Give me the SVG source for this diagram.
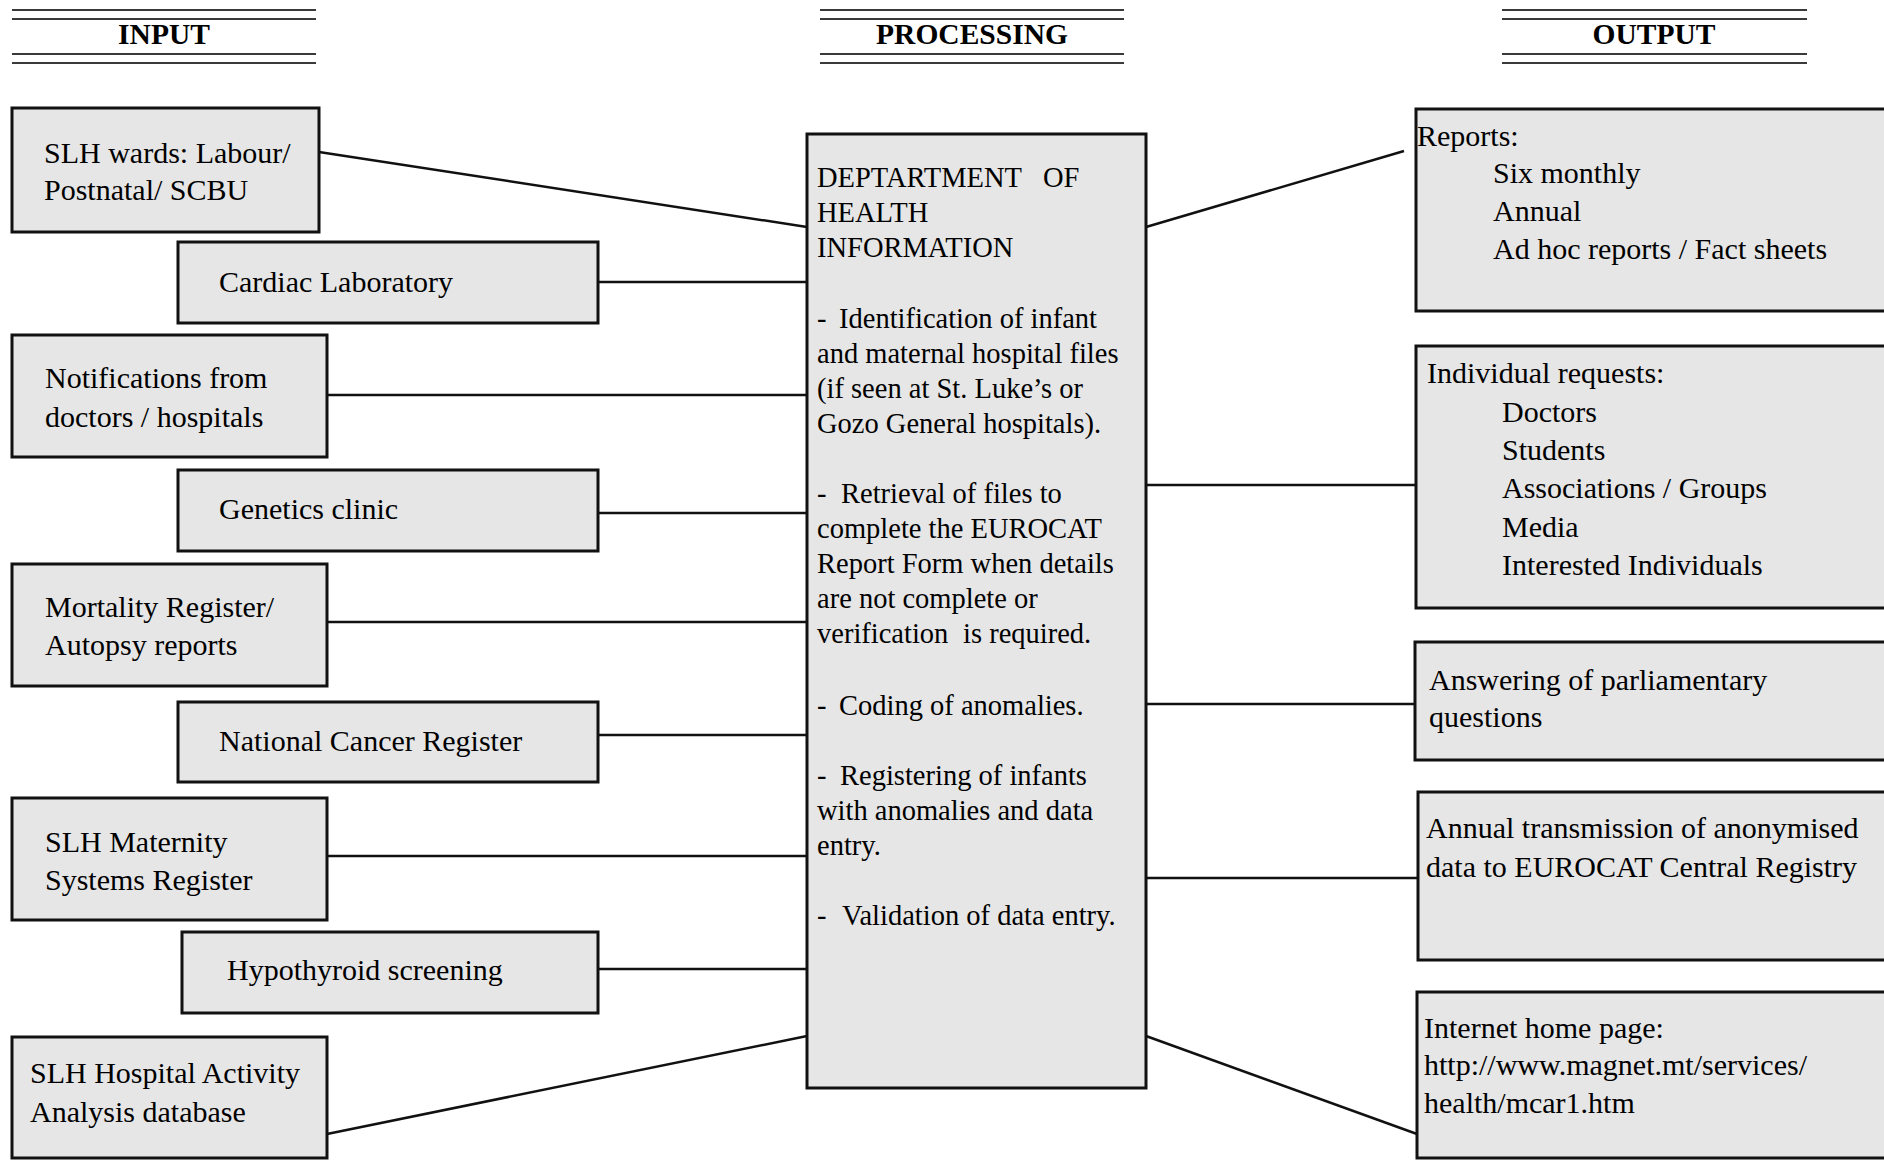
<svg xmlns="http://www.w3.org/2000/svg" width="1884" height="1160" viewBox="0 0 1884 1160">
<style>
.hl{stroke:#3a3a3a;stroke-width:2;fill:none}
.ht{font-family:"Liberation Serif","Times New Roman",serif;font-weight:bold;font-size:29.5px;fill:#000;text-anchor:middle}
.box{fill:#e6e6e6;stroke:#111;stroke-width:3}
.t{font-family:"Liberation Serif","Times New Roman",serif;font-size:30px;fill:#000}
.c{font-family:"Liberation Serif","Times New Roman",serif;font-size:28.5px;fill:#000}
.con line{stroke:#111;stroke-width:2.5}
</style>
<rect width="1884" height="1160" fill="#fff"/>
<g id="header-input">
<line class="hl" x1="12" y1="10" x2="316" y2="10"/><line class="hl" x1="12" y1="19" x2="316" y2="19"/>
<line class="hl" x1="12" y1="54" x2="316" y2="54"/><line class="hl" x1="12" y1="63" x2="316" y2="63"/>
<text class="ht" x="164" y="44">INPUT</text>
</g>
<g id="header-processing">
<line class="hl" x1="820" y1="10" x2="1124" y2="10"/><line class="hl" x1="820" y1="19" x2="1124" y2="19"/>
<line class="hl" x1="820" y1="54" x2="1124" y2="54"/><line class="hl" x1="820" y1="63" x2="1124" y2="63"/>
<text class="ht" x="972" y="44">PROCESSING</text>
</g>
<g id="header-output">
<line class="hl" x1="1502" y1="10" x2="1807" y2="10"/><line class="hl" x1="1502" y1="19" x2="1807" y2="19"/>
<line class="hl" x1="1502" y1="54" x2="1807" y2="54"/><line class="hl" x1="1502" y1="63" x2="1807" y2="63"/>
<text class="ht" x="1654" y="44">OUTPUT</text>
</g>
<g id="connectors" class="con">
<line x1="319" y1="152" x2="807" y2="227"/>
<line x1="598" y1="282" x2="807" y2="282"/>
<line x1="327" y1="395" x2="807" y2="395"/>
<line x1="598" y1="513" x2="807" y2="513"/>
<line x1="327" y1="622" x2="807" y2="622"/>
<line x1="598" y1="735" x2="807" y2="735"/>
<line x1="327" y1="856" x2="807" y2="856"/>
<line x1="598" y1="969" x2="807" y2="969"/>
<line x1="327" y1="1134" x2="807" y2="1036"/>
<line x1="1146" y1="227" x2="1404" y2="151"/>
<line x1="1146" y1="485" x2="1416" y2="485"/>
<line x1="1146" y1="704" x2="1415" y2="704"/>
<line x1="1146" y1="878" x2="1418" y2="878"/>
<line x1="1146" y1="1036" x2="1417" y2="1134"/>
</g>
<g id="in-slh-wards"><rect class="box" x="12" y="108" width="307" height="124"/>
<text class="t" x="44" y="163">SLH wards: Labour/</text><text class="t" x="44" y="200">Postnatal/ SCBU</text></g>
<g id="in-cardiac"><rect class="box" x="178" y="242" width="420" height="81"/>
<text class="t" x="219" y="292">Cardiac Laboratory</text></g>
<g id="in-notifications"><rect class="box" x="12" y="335" width="315" height="122"/>
<text class="t" x="45" y="388">Notifications from</text><text class="t" x="45" y="427">doctors / hospitals</text></g>
<g id="in-genetics"><rect class="box" x="178" y="470" width="420" height="81"/>
<text class="t" x="219" y="519">Genetics clinic</text></g>
<g id="in-mortality"><rect class="box" x="12" y="564" width="315" height="122"/>
<text class="t" x="45" y="617">Mortality Register/</text><text class="t" x="45" y="655">Autopsy reports</text></g>
<g id="in-cancer"><rect class="box" x="178" y="702" width="420" height="80"/>
<text class="t" x="219" y="751">National Cancer Register</text></g>
<g id="in-maternity"><rect class="box" x="12" y="798" width="315" height="122"/>
<text class="t" x="45" y="852">SLH Maternity</text><text class="t" x="45" y="890">Systems Register</text></g>
<g id="in-hypothyroid"><rect class="box" x="182" y="932" width="416" height="81"/>
<text class="t" x="227" y="980">Hypothyroid screening</text></g>
<g id="in-haa"><rect class="box" x="12" y="1037" width="315" height="121"/>
<text class="t" x="30" y="1083">SLH Hospital Activity</text><text class="t" x="30" y="1122">Analysis database</text></g>
<g id="processing"><rect class="box" x="807" y="134" width="339" height="954"/>
<text class="c" x="817" y="187">DEPTARTMENT <tspan x="1043">OF</tspan></text>
<text class="c" x="817" y="222">HEALTH</text>
<text class="c" x="817" y="257">INFORMATION</text>
<text class="c" x="817" y="328">- <tspan x="839">Identification of infant</tspan></text>
<text class="c" x="817" y="363">and maternal hospital files</text>
<text class="c" x="817" y="398">(if seen at St. Luke’s or</text>
<text class="c" x="817" y="433">Gozo General hospitals).</text>
<text class="c" x="817" y="503">- <tspan x="841">Retrieval of files to</tspan></text>
<text class="c" x="817" y="538">complete the EUROCAT</text>
<text class="c" x="817" y="573">Report Form when details</text>
<text class="c" x="817" y="608">are not complete or</text>
<text class="c" x="817" y="643">verification <tspan x="963">is required.</tspan></text>
<text class="c" x="817" y="715">- <tspan x="839">Coding of anomalies.</tspan></text>
<text class="c" x="817" y="785">- <tspan x="840">Registering of infants</tspan></text>
<text class="c" x="817" y="820">with anomalies and data</text>
<text class="c" x="817" y="855">entry.</text>
<text class="c" x="817" y="925">- <tspan x="842">Validation of data entry.</tspan></text>
</g>
<g id="out-reports"><rect class="box" x="1416" y="109" width="480" height="202"/>
<text class="t" x="1417" y="146">Reports:</text>
<text class="t" x="1493" y="183">Six monthly</text>
<text class="t" x="1493" y="221">Annual</text>
<text class="t" x="1493" y="259">Ad hoc reports / Fact sheets</text></g>
<g id="out-individual"><rect class="box" x="1416" y="346" width="480" height="262"/>
<text class="t" x="1427" y="383">Individual requests:</text>
<text class="t" x="1502" y="422">Doctors</text>
<text class="t" x="1502" y="460">Students</text>
<text class="t" x="1502" y="498">Associations / Groups</text>
<text class="t" x="1502" y="537">Media</text>
<text class="t" x="1502" y="575">Interested Individuals</text></g>
<g id="out-parliament"><rect class="box" x="1415" y="642" width="480" height="118"/>
<text class="t" x="1429" y="690">Answering of parliamentary</text>
<text class="t" x="1429" y="727">questions</text></g>
<g id="out-eurocat"><rect class="box" x="1418" y="792" width="480" height="168"/>
<text class="t" x="1426" y="838">Annual transmission of anonymised</text>
<text class="t" x="1426" y="877">data to EUROCAT Central Registry</text></g>
<g id="out-internet"><rect class="box" x="1417" y="992" width="480" height="166"/>
<text class="t" x="1424" y="1038">Internet home page:</text>
<text class="t" x="1424" y="1075">http://www.magnet.mt/services/</text>
<text class="t" x="1424" y="1113">health/mcar1.htm</text></g>
</svg>
